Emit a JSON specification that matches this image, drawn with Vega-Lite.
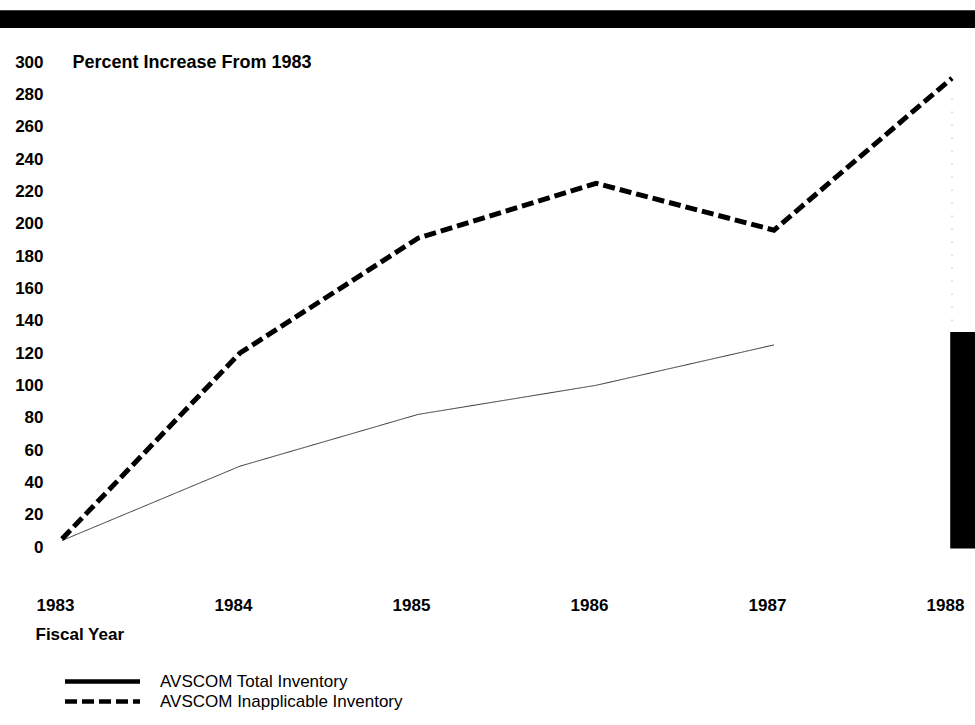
{
  "$schema": "https://vega.github.io/schema/vega-lite/v6.json",
  "width": 890,
  "height": 485,
  "autosize": {"type": "none"},
  "padding": {"left": 62, "top": 62, "right": 23, "bottom": 178},
  "background": "white",
  "config": {
    "view": {"stroke": null},
    "font": "Liberation Sans",
    "axis": {"grid": false, "domain": false, "ticks": false, "labelOverlap": false, "labelFont": "Liberation Sans", "labelFontWeight": "bold", "labelFontSize": 17, "labelColor": "black", "titleFont": "Liberation Sans", "titleFontWeight": "bold", "titleFontSize": 17, "titleColor": "black"},
    "legend": {"labelFont": "Liberation Sans", "labelFontSize": 17, "labelColor": "black", "labelFontWeight": "normal", "labelLimit": 0}
  },
  "datasets": {
    "series": [
      {"year": 1983, "pct": 4, "series": "AVSCOM Total Inventory"},
      {"year": 1984, "pct": 50, "series": "AVSCOM Total Inventory"},
      {"year": 1985, "pct": 82, "series": "AVSCOM Total Inventory"},
      {"year": 1986, "pct": 100, "series": "AVSCOM Total Inventory"},
      {"year": 1987, "pct": 125, "series": "AVSCOM Total Inventory"},
      {"year": 1983, "pct": 5, "series": "AVSCOM Inapplicable Inventory"},
      {"year": 1984, "pct": 120, "series": "AVSCOM Inapplicable Inventory"},
      {"year": 1985, "pct": 191, "series": "AVSCOM Inapplicable Inventory"},
      {"year": 1986, "pct": 225, "series": "AVSCOM Inapplicable Inventory"},
      {"year": 1987, "pct": 196, "series": "AVSCOM Inapplicable Inventory"},
      {"year": 1988, "pct": 290, "series": "AVSCOM Inapplicable Inventory"}
    ],
    "bars": [
      {"year": 1982.6, "year2": 1988.2, "pct": 321, "pct2": 332},
      {"year": 1987.99, "year2": 1988.2, "pct": -1, "pct2": 133}
    ],
    "dots": [
      {"year": 1988, "pct": 140, "pct2": 282}
    ]
  },
  "encoding": {
    "x": {"field": "year", "type": "quantitative", "scale": {"domain": [1983, 1988], "nice": false, "zero": false},
          "axis": {"values": [1983, 1984, 1985, 1986, 1987, 1988], "format": "d", "labelPadding": 50, "labelBaseline": "top", "labelOffset": -7, "labelFlush": false, "labelOverlap": false,
                   "title": "Fiscal Year", "titleAnchor": "start", "titleAlign": "left", "titleX": -27, "titleY": 87, "titleBaseline": "middle"}},
    "y": {"field": "pct", "type": "quantitative", "scale": {"domain": [0, 300], "nice": false},
          "axis": {"values": [0, 20, 40, 60, 80, 100, 120, 140, 160, 180, 200, 220, 240, 260, 280, 300], "format": "d", "labelPadding": 19, "labelOverlap": false, "labelFlush": false, "labelBound": false,
                   "title": "Percent Increase From 1983", "titleFontSize": 18, "titleAngle": 0, "titleAlign": "left", "titleBaseline": "middle", "titleX": 10, "titleY": 0}}
  },
  "layer": [
    {
      "data": {"name": "series"},
      "transform": [{"filter": "datum.series === 'AVSCOM Total Inventory'"}],
      "mark": {"type": "line", "strokeWidth": 1, "color": "#333333"},
      "encoding": {
        "strokeDash": {"field": "series", "type": "nominal",
                       "scale": {"domain": ["AVSCOM Total Inventory", "AVSCOM Inapplicable Inventory"], "range": [[1, 0], [12, 5]]},
                       "legend": {"title": null, "orient": "none", "legendX": 30, "legendY": 609, "symbolType": "M-4.6875,0H4.6875", "symbolSize": 256, "symbolStrokeWidth": 4.5, "symbolStrokeColor": "black", "symbolFillColor": "transparent", "labelOffset": 47, "rowPadding": -2, "padding": 0}}
      }
    },
    {
      "data": {"name": "series"},
      "transform": [{"filter": "datum.series === 'AVSCOM Inapplicable Inventory'"}],
      "mark": {"type": "line", "strokeWidth": 5, "color": "black", "strokeCap": "butt"},
      "encoding": {
        "strokeDash": {"field": "series", "type": "nominal"}
      }
    },
    {
      "data": {"name": "dots"},
      "mark": {"type": "rule", "color": "#999999", "strokeWidth": 1, "strokeDash": [1, 12]},
      "encoding": {
        "y2": {"field": "pct2"}
      }
    },
    {
      "data": {"name": "bars"},
      "mark": {"type": "rect", "color": "black", "clip": false},
      "encoding": {
        "x2": {"field": "year2"},
        "y2": {"field": "pct2"}
      }
    }
  ]
}
